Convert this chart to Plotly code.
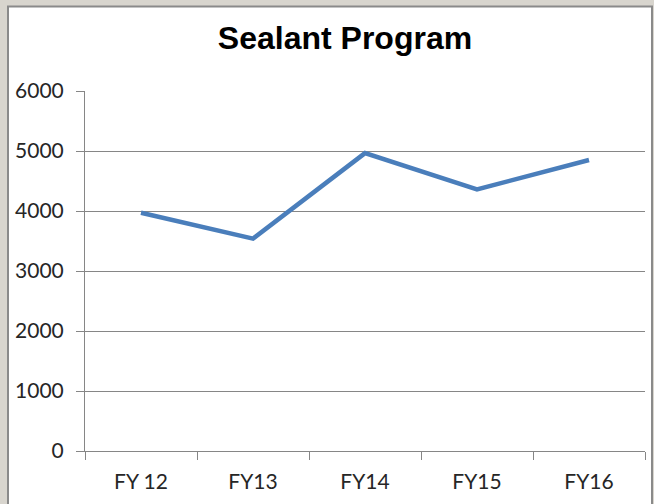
import plotly.graph_objects as go

categories = ["FY 12", "FY13", "FY14", "FY15", "FY16"]
values = [3970, 3540, 4965, 4360, 4850]
y_ticks = [0, 1000, 2000, 3000, 4000, 5000, 6000]
title_text = "Sealant Program"

W, H = 654, 504
L, R, T, B = 85, 9, 91, 53
pw, ph = W - L - R, H - T - B

def px(x):
    return (x - L) / pw

def py(y):
    return (H - B - y) / ph

fig = go.Figure()
fig.add_trace(go.Scatter(
    x=categories, y=values, mode="lines",
    line=dict(color="#4a7ebb", width=4.5),
    hoverinfo="x+y",
))

fig.add_shape(type="rect", xref="paper", yref="paper",
              x0=px(8), x1=px(652), y0=py(520), y1=py(6.5),
              fillcolor="white", line=dict(color="#8a8a8a", width=2),
              layer="below")

tick_font = dict(family="Lato, 'Liberation Sans', sans-serif", size=21, color="#262626")

fig.update_layout(
    width=W, height=H,
    margin=dict(l=L, r=R, t=T, b=B, pad=0),
    paper_bgcolor="#d8d5ce",
    plot_bgcolor="rgba(0,0,0,0)",
    showlegend=False,
    title=dict(text="<b>" + title_text + "</b>", xref="container", yref="container",
               x=345 / W, y=1 - 38 / H, xanchor="center", yanchor="middle",
               font=dict(family="'Liberation Sans', Arial, sans-serif", size=32, color="black")),
    xaxis=dict(
        type="category", range=[-0.5, 4.5], tickson="boundaries",
        ticks="outside", ticklen=8, tickcolor="#868686", tickwidth=1,
        showline=True, linecolor="#868686", linewidth=1,
        showgrid=False, tickfont=tick_font, ticklabelstandoff=12,
    ),
    yaxis=dict(
        range=[0, 6000], tickvals=y_ticks,
        ticks="outside", ticklen=8, tickcolor="#868686", tickwidth=1,
        showline=True, linecolor="#868686", linewidth=1,
        showgrid=True, gridcolor="#868686", gridwidth=1, zeroline=False,
        tickfont=tick_font, ticklabelstandoff=8,
    ),
)

fig.write_html("out.html", config={"displayModeBar": False},
               post_script="document.body.style.margin='0';document.body.style.background='#d8d5ce';")
